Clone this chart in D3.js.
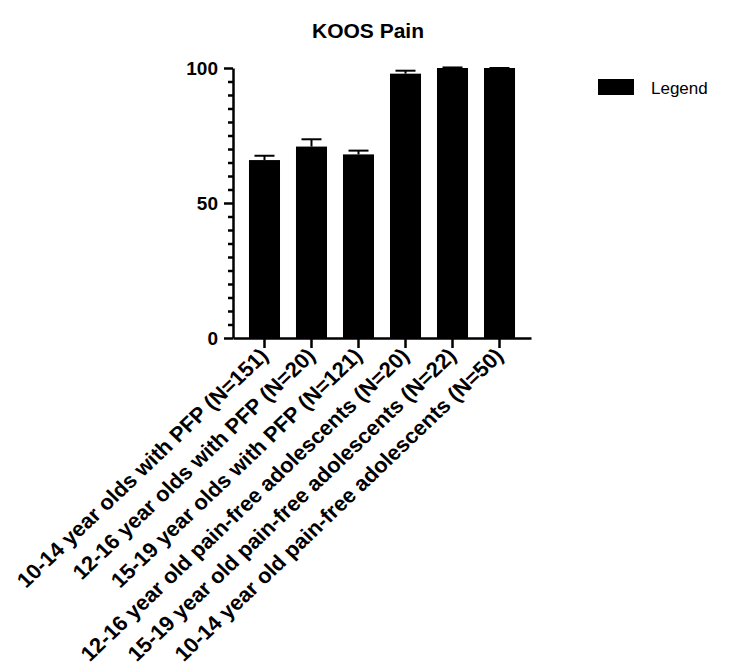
<!DOCTYPE html>
<meta charset="utf-8">
<style>
  body { margin: 0; background: #fff; }
  text { font-family: Arial, "Liberation Sans", Helvetica, sans-serif; }
</style>
<svg width="733" height="666"></svg>
<script src="https://d3js.org/d3.v7.min.js"></script>
<script>

var groups = [
    "10-14 year olds with PFP (N=151)",
    "12-16 year olds with PFP (N=20)",
    "15-19 year olds with PFP (N=121)",
    "12-16 year old pain-free adolescents (N=20)",
    "15-19 year old pain-free adolescents (N=22)",
    "10-14 year old pain-free adolescents (N=50)"
];
var means = [65.9, 70.9, 68.0, 97.9, 100, 100];
var errors = [1.6, 2.7, 1.4, 1.1, 0.2, 0];
var majorTicks = [0, 50, 100];

var svg = d3.select("svg");

var x = d3.scaleBand()
    .domain(groups)
    .range([233, 531])
    .paddingInner(0.34)
    .paddingOuter(0.34);

var y = d3.scaleLinear()
    .domain([0, 100])
    .range([338, 68]);

// title
svg.append("text")
    .attr("x", 368)
    .attr("y", 38)
    .attr("text-anchor", "middle")
    .style("font-size", "21px")
    .style("font-weight", "bold")
    .text("KOOS Pain");

// bars
svg.selectAll(".bar")
    .data(groups)
    .enter().append("rect")
    .attr("class", "bar")
    .attr("x", function (d) { return x(d); })
    .attr("width", x.bandwidth())
    .attr("y", function (d, i) { return y(means[i]); })
    .attr("height", function (d, i) { return y(0) - y(means[i]); })
    .attr("fill", "#000");

// error bars (upper only)
var capW = 20;
var err = svg.selectAll(".err")
    .data(groups)
    .enter().append("g")
    .attr("class", "err")
    .attr("stroke", "#000")
    .attr("stroke-width", 2);
err.append("line")
    .attr("x1", function (d) { return x(d) + x.bandwidth() / 2; })
    .attr("x2", function (d) { return x(d) + x.bandwidth() / 2; })
    .attr("y1", function (d, i) { return y(means[i]); })
    .attr("y2", function (d, i) { return y(means[i] + errors[i]); });
err.append("line")
    .attr("x1", function (d) { return x(d) + x.bandwidth() / 2 - capW / 2; })
    .attr("x2", function (d) { return x(d) + x.bandwidth() / 2 + capW / 2; })
    .attr("y1", function (d, i) { return y(means[i] + errors[i]); })
    .attr("y2", function (d, i) { return y(means[i] + errors[i]); });

// y axis minor ticks
svg.append("g")
    .attr("transform", "translate(233,0)")
    .call(d3.axisLeft(y)
        .tickValues(d3.range(0, 101, 5).filter(function (v) { return v % 50 !== 0; }))
        .tickSize(5)
        .tickSizeOuter(0)
        .tickFormat(""))
    .call(function (g) {
        g.select(".domain").remove();
        g.selectAll("line").attr("stroke-width", 2.5);
    });

// y axis major
svg.append("g")
    .attr("transform", "translate(233,0)")
    .call(d3.axisLeft(y)
        .tickValues(majorTicks)
        .tickSize(9)
        .tickSizeOuter(0)
        .tickPadding(6))
    .call(function (g) {
        g.select(".domain").attr("stroke-width", 2.5);
        g.selectAll("line").attr("stroke-width", 2.5);
        g.selectAll("text")
            .attr("fill", "#000")
            .style("font-size", "19px")
            .style("font-weight", "bold")
            .style("font-family", "Arial, 'Liberation Sans', Helvetica, sans-serif");
    });

// x axis
svg.append("g")
    .attr("transform", "translate(0,338)")
    .call(d3.axisBottom(x)
        .tickSize(10)
        .tickSizeOuter(0)
        .tickFormat(""))
    .call(function (g) {
        g.select(".domain").attr("stroke-width", 2.5);
        g.selectAll("line").attr("stroke-width", 2.5);
    });

// x labels, rotated
svg.selectAll(".xlab")
    .data(groups)
    .enter().append("text")
    .attr("class", "xlab")
    .attr("transform", function (d) {
        return "translate(" + (x(d) + x.bandwidth() / 2 + 5) + ",357) scale(1.05,1) rotate(-45)";
    })
    .attr("text-anchor", "end")
    .style("font-size", "21px")
    .style("font-weight", "bold")
    .text(function (d) { return d; });

// legend
svg.append("rect")
    .attr("x", 598)
    .attr("y", 79)
    .attr("width", 36)
    .attr("height", 16)
    .attr("fill", "#000");
svg.append("text")
    .attr("x", 651)
    .attr("y", 94)
    .style("font-size", "17px")
    .text("Legend");

</script>
